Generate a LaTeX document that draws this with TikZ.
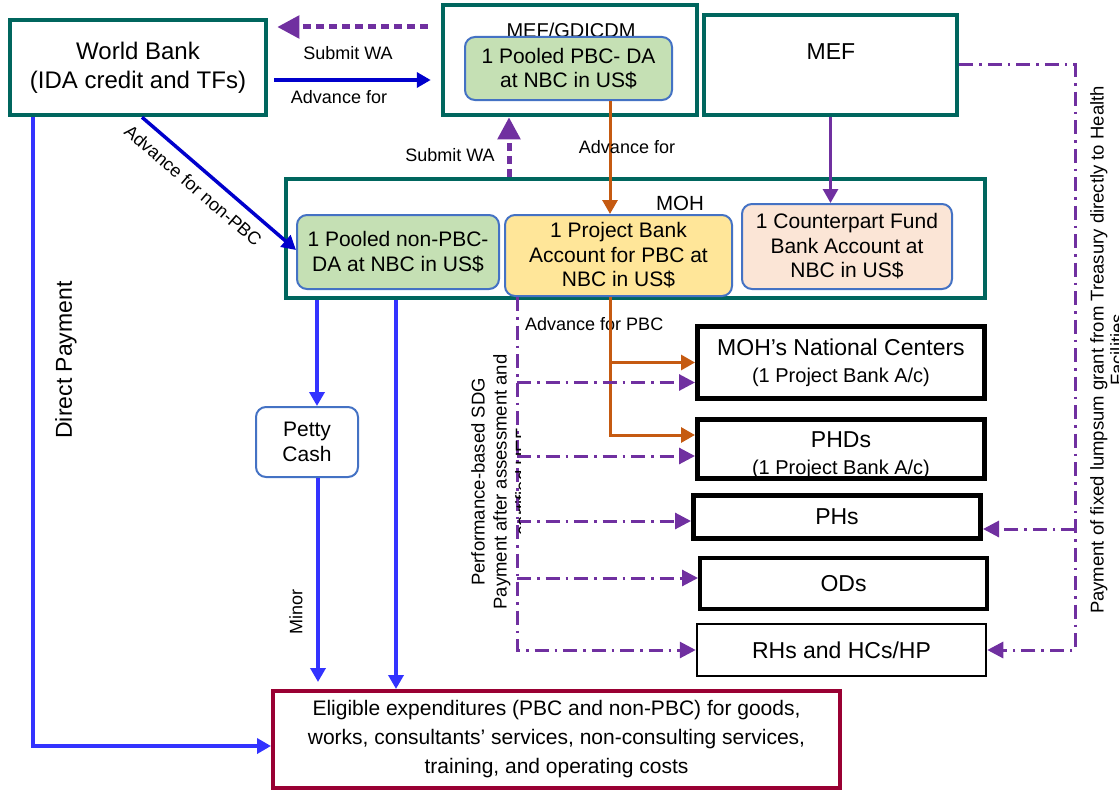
\documentclass[tikz,border=0pt]{standalone}
\usepackage{fontspec}
\setmainfont{Liberation Sans}
\usetikzlibrary{arrows.meta, calc, positioning}

\definecolor{tealline}{RGB}{0,102,94}
\definecolor{acctline}{RGB}{68,114,196}
\definecolor{poolgreen}{RGB}{197,224,180}
\definecolor{pbcyellow}{RGB}{255,230,153}
\definecolor{cpfpeach}{RGB}{251,229,214}
\definecolor{wbblue}{RGB}{0,0,204}
\definecolor{payblue}{RGB}{51,51,255}
\definecolor{wapurple}{RGB}{112,48,160}
\definecolor{advorange}{RGB}{197,90,17}
\definecolor{eligred}{RGB}{153,0,51}

\begin{document}
\begin{tikzpicture}[
    % one unit = one pixel of the sketch, y runs downwards
    x=1pt,
    y=-1pt,
    >={Triangle[length=14pt, width=15pt]},
    bigtip/.style={-{Triangle[length=22pt, width=22pt]}},
    ddtip/.style={-{Triangle[length=16pt, width=16pt]}},
    tealbox/.style={draw=tealline, line width=4.5pt, fill=white, inner sep=0pt},
    acct/.style={draw=acctline, line width=2pt, rounded corners=10pt, inner sep=0pt,
        align=center, font=\fontsize{21}{24.5}\selectfont},
    unit/.style={draw=black, fill=white, inner sep=0pt, align=center,
        font=\fontsize{23}{27}\selectfont},
    lbl/.style={font=\fontsize{18}{21}\selectfont, inner sep=0pt, text=black},
    wbline/.style={wbblue, line width=3.5pt},
    payline/.style={payblue, line width=3.5pt},
    waline/.style={wapurple, line width=5pt, dash pattern=on 8pt off 5pt},
    dashdot/.style={wapurple, line width=3pt, dash pattern=on 14pt off 6pt on 2.5pt off 6pt},
    advline/.style={advorange, line width=3pt}
]
    \useasboundingbox (0,0) rectangle (1119,792);

    % --- Top row: World Bank, MEF/GDICDM, MEF ---
    \node[tealbox, minimum width=256, minimum height=95, align=center,
        font=\fontsize{24}{29}\selectfont] (wb) at (138,67.5) {World Bank\\(IDA credit and TFs)};
    \node[tealbox, minimum width=254, minimum height=110] (gdicdm) at (570,60) {};
    \node[font=\fontsize{20}{24}\selectfont] (gdicdmlbl) at (571,30) {MEF/GDICDM};
    \node[acct, fill=poolgreen, minimum width=207, minimum height=63] (pbcda) at (568.5,68.5)
        {1 Pooled PBC- DA\\at NBC in US\$};
    \node[tealbox, minimum width=253, minimum height=100] (mef) at (830.5,65) {};
    \node[font=\fontsize{23}{27}\selectfont] (meflbl) at (831,52) {MEF};

    % --- MOH and its accounts ---
    \node[tealbox, minimum width=699, minimum height=119] (moh) at (635.5,238.5) {};
    \node[font=\fontsize{20.5}{24}\selectfont] (mohlbl) at (680,203) {MOH};
    \node[acct, fill=poolgreen, minimum width=202, minimum height=74] (nonpbc) at (398,252)
        {1 Pooled non-PBC-\\DA at NBC in US\$};
    \node[acct, fill=pbcyellow, minimum width=227, minimum height=81] (pbcacc) at (618.5,255.5)
        {1 Project Bank\\Account for PBC at\\NBC in US\$};
    \node[acct, fill=cpfpeach, minimum width=210, minimum height=85] (cpf) at (847,246.5)
        {1 Counterpart Fund\\Bank Account at\\NBC in US\$};
    \node[acct, fill=white, minimum width=102, minimum height=70] (petty) at (307,442) {Petty\\Cash};

    % --- Health units ---
    \node[unit, line width=5pt, minimum width=287, minimum height=72] (natc) at (841,362.5)
        {MOH’s National Centers\\{\fontsize{20}{24}\selectfont (1 Project Bank A/c)}};
    \node[unit, line width=5pt, minimum width=287, minimum height=59] (phds) at (841,449) {};
    \node[font=\fontsize{23}{27}\selectfont] (phdslbl) at (841,440) {PHDs};
    \begin{scope}
        \clip (phds.north west) rectangle ([yshift=2.5pt]phds.south east);
        \node[font=\fontsize{20}{24}\selectfont, anchor=base] (phdsac) at (841,474) {(1 Project Bank A/c)};
    \end{scope}
    \node[unit, line width=5pt, minimum width=287, minimum height=43] (phs) at (837,517) {PHs};
    \node[unit, line width=4pt, minimum width=287, minimum height=51] (ods) at (843.5,583.5) {ODs};
    \node[unit, line width=2.5pt, minimum width=289, minimum height=52] (rhs) at (841.5,650) {RHs and HCs/HP};

    % --- Eligible expenditures ---
    \node[draw=eligred, line width=4pt, fill=white, inner sep=0pt, minimum width=567, minimum height=97,
        align=center, font=\fontsize{21}{29}\selectfont] (elig) at (556.5,739.5)
        {Eligible expenditures (PBC and non-PBC) for goods,\\works, consultants’ services, non-consulting services,\\training, and operating costs};

    % --- Withdrawal applications and advances ---
    \coordinate (wa1) at ([xshift=-13pt, yshift=33pt]gdicdm.west);
    \draw[waline, bigtip, shorten >=9pt] (wa1) -- (wa1 -| wb.east);
    \node[lbl] (subwa1) at (348,53) {Submit WA};
    \coordinate (adv1) at ([xshift=6pt, yshift=-12.5pt]wb.east);
    \draw[wbline, ->, shorten >=10pt] (adv1) -- (adv1 -| gdicdm.west);
    \node[lbl] (adv1lbl) at (339,97) {Advance for};
    \draw[wbline, ->] ([xshift=4pt]wb.south) -- ([yshift=2pt]nonpbc.west)
        node[lbl, pos=0.41, sloped, below=10pt] (advnonlbl) {Advance for non-PBC};

    \coordinate (wa2) at ([xshift=-61pt]gdicdm.south);
    \draw[waline, bigtip] (wa2 |- moh.north) -- (wa2);
    \node[lbl] (subwa2) at (450,155) {Submit WA};

    \coordinate (adv2) at ([xshift=41.5pt]pbcda.south);
    \draw[advline, ->] (adv2) -- (adv2 |- pbcacc.north);
    \node[lbl] (adv2lbl) at (627,147) {Advance for};
    \draw[wapurple, line width=3pt, ->] (mef.south) -- (mef.south |- cpf.north);

    % --- Payments from the pooled non-PBC account ---
    \draw[payline, ->] ([xshift=25pt]wb.south west) |- ([yshift=-6.5pt]elig.west);
    \node[font=\fontsize{23}{27}\selectfont, rotate=90] (dirpay) at (66,360) {Direct Payment};
    \coordinate (pc1) at ([xshift=10pt]petty.north);
    \draw[payline, ->] (pc1 |- moh.south) -- (pc1);
    \coordinate (pc2) at ([xshift=11pt]petty.south);
    \draw[payline, ->, shorten >=7pt] (pc2) -- (pc2 |- elig.north);
    \node[lbl, rotate=90] (minor) at (296,612) {Minor};
    \coordinate (np) at ([xshift=-2pt]nonpbc.south);
    \draw[payline, ->] (np |- moh.south) -- (np |- elig.north);

    % --- Advances for PBC ---
    \node[lbl, anchor=west] (advpbclbl) at (525,324) {Advance for PBC};
    \coordinate (adv3) at (adv2 |- pbcacc.south);
    \draw[advline, ->] (adv3) |- (natc.west);
    \coordinate (phdsin) at ([yshift=14pt]phds.west);
    \draw[advline, ->] (adv3) |- (phdsin);

    % --- Performance-based payments ---
    \coordinate (sdg) at ([xshift=13pt]pbcacc.south west);
    \draw[dashdot, ddtip] (sdg) |- (rhs.west);
    \foreach \unit/\dy in {natc/-20pt, phds/-7pt, phs/-4pt, ods/5.5pt} {
        \coordinate (arrin) at ([yshift=\dy]\unit.west);
        \draw[dashdot, ddtip] (sdg |- arrin) -- (arrin);
    }
    \begin{scope}
        \clip (0,0) rectangle (520,792);
        \node[rotate=90, align=center, inner sep=0pt, font=\fontsize{18.5}{22}\selectfont] (sdglbl) at (500,482)
            {Performance-based SDG\\Payment after assessment and\\certified HEF};
    \end{scope}

    % --- Lump sum grants from Treasury ---
    \coordinate (tr) at ([xshift=116pt]mef.east);
    \draw[dashdot, ddtip] (mef.east) -- (tr) |- (rhs.east);
    \coordinate (phsin) at ([yshift=-12pt]phs.east);
    \draw[dashdot, ddtip] (tr |- phsin) -- (phsin);
    \node[rotate=90, align=center, inner sep=0pt, font=\fontsize{18.5}{20}\selectfont] (lumplbl) at (1107,350)
        {Payment of fixed lumpsum grant from Treasury directly to Health\\Facilities};

\end{tikzpicture}
\end{document}
